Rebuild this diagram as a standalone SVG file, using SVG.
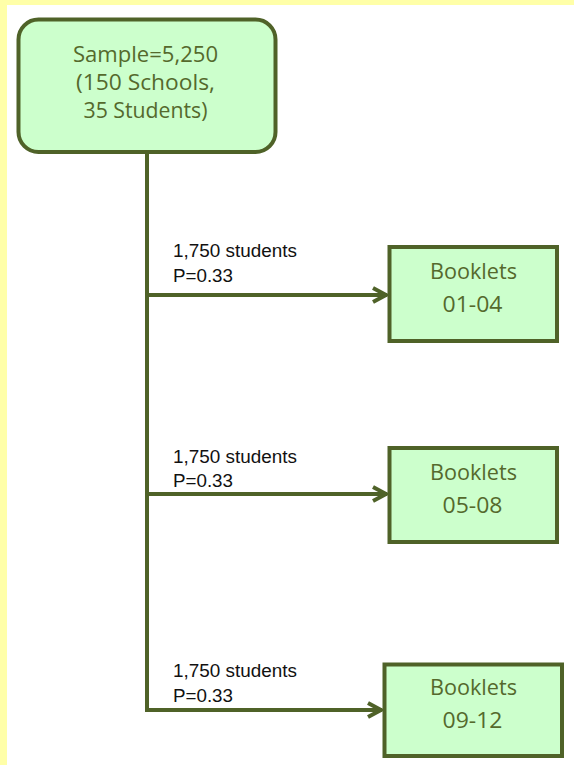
<svg xmlns="http://www.w3.org/2000/svg" width="574" height="765" viewBox="0 0 574 765">
<style>
.node{fill:#ccffcc;stroke:#4f6228;stroke-width:4}
.nt{font-family:"Open Sans","Noto Sans",sans-serif;font-size:21px;fill:#55692c;text-anchor:middle}
.lbl{font-family:"Liberation Sans",Arial,sans-serif;font-size:18px;fill:#111}
.conn{fill:none;stroke:#4f6228;stroke-width:4}
</style>
<defs>
<marker id="arr" markerUnits="userSpaceOnUse" markerWidth="24" markerHeight="24" viewBox="-20 -12 24 24" refX="0" refY="0" orient="auto">
<path d="M-14,-7 L-1,0 L-14,7" fill="none" stroke="#4f6228" stroke-width="4" stroke-linejoin="miter"/>
</marker>
</defs>
<rect x="0" y="0" width="574" height="765" fill="#ffffff"/>
<rect x="0" y="0" width="574" height="5" fill="#ffffa8"/>
<rect x="0" y="0" width="7" height="765" fill="#ffffa8"/>
<g id="connectors">
<path class="conn" d="M147,152 V710 H382" marker-end="url(#arr)"/>
<path class="conn" d="M147,295 H387" marker-end="url(#arr)"/>
<path class="conn" d="M147,494 H387" marker-end="url(#arr)"/>
<text class="lbl" x="173" y="257" textLength="124" lengthAdjust="spacingAndGlyphs">1,750 students</text>
<text class="lbl" x="173" y="282" textLength="60" lengthAdjust="spacingAndGlyphs">P=0.33</text>
<text class="lbl" x="173" y="463" textLength="124" lengthAdjust="spacingAndGlyphs">1,750 students</text>
<text class="lbl" x="173" y="487" textLength="60" lengthAdjust="spacingAndGlyphs">P=0.33</text>
<text class="lbl" x="173" y="677" textLength="124" lengthAdjust="spacingAndGlyphs">1,750 students</text>
<text class="lbl" x="173" y="702" textLength="60" lengthAdjust="spacingAndGlyphs">P=0.33</text>
</g>
<g id="sample">
<rect class="node" x="18.5" y="19.5" width="257" height="132.5" rx="20" ry="20"/>
<text class="nt" x="145.5" y="62" textLength="145" lengthAdjust="spacingAndGlyphs">Sample=5,250</text>
<text class="nt" x="145.5" y="90" textLength="139" lengthAdjust="spacingAndGlyphs">(150 Schools,</text>
<text class="nt" x="145.5" y="118" textLength="124" lengthAdjust="spacingAndGlyphs">35 Students)</text>
</g>
<g id="booklets-01-04">
<rect class="node" x="389.5" y="247" width="167.5" height="94"/>
<text class="nt" x="473.5" y="279" textLength="87" lengthAdjust="spacingAndGlyphs">Booklets</text>
<text class="nt" x="472.5" y="312" textLength="60" lengthAdjust="spacingAndGlyphs">01-04</text>
</g>
<g id="booklets-05-08">
<rect class="node" x="389.5" y="448" width="167.5" height="94"/>
<text class="nt" x="473.5" y="480" textLength="87" lengthAdjust="spacingAndGlyphs">Booklets</text>
<text class="nt" x="472.5" y="513" textLength="60" lengthAdjust="spacingAndGlyphs">05-08</text>
</g>
<g id="booklets-09-12">
<rect class="node" x="384.5" y="664.5" width="177.5" height="91.5"/>
<text class="nt" x="473.5" y="695" textLength="87" lengthAdjust="spacingAndGlyphs">Booklets</text>
<text class="nt" x="472.5" y="728" textLength="60" lengthAdjust="spacingAndGlyphs">09-12</text>
</g>
</svg>
